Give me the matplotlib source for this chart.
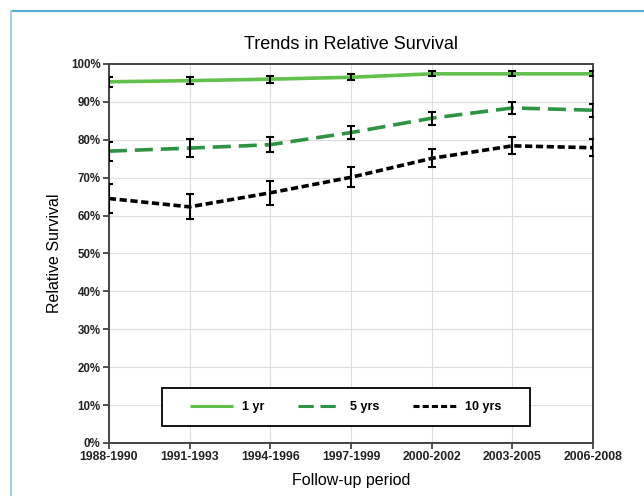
import numpy as np
import matplotlib
matplotlib.use("Agg")
import matplotlib.pyplot as plt
from matplotlib.lines import Line2D
from matplotlib.patches import Rectangle
from matplotlib.ticker import FuncFormatter

# data
periods = ["1988-1990", "1991-1993", "1994-1996", "1997-1999",
           "2000-2002", "2003-2005", "2006-2008"]
surv_1yr = [95.3, 95.6, 96.0, 96.5, 97.4, 97.4, 97.4]
err_1yr = [1.3, 1.0, 0.9, 0.8, 0.7, 0.7, 0.7]
surv_5yr = [77.0, 77.8, 78.7, 81.9, 85.7, 88.4, 87.8]
err_5yr = [2.5, 2.3, 2.0, 1.8, 1.7, 1.5, 1.7]
surv_10yr = [64.5, 62.3, 66.0, 70.1, 75.1, 78.4, 77.9]
err_10yr = [3.8, 3.3, 3.2, 2.6, 2.4, 2.2, 2.2]

plt.rcParams['font.family'] = ['Liberation Sans', 'DejaVu Sans']

fig = plt.figure(figsize=(6.44, 4.96), dpi=100)
ax = fig.add_axes([0.169, 0.107, 0.752, 0.764])

x = np.arange(len(periods))

series = [
    (surv_1yr, err_1yr, "1 yr", "#62c04c", (0, ())),
    (surv_5yr, err_5yr, "5 yrs", "#2e9444", (0, (5, 2.2))),
    (surv_10yr, err_10yr, "10 yrs", "black", (0, (2.0, 1.0))),
]
for vals, errs, name, col, ls in series:
    ax.plot(x, vals, color=col, lw=2.6, linestyle=ls, label=name, zorder=3)
    ax.errorbar(x, vals, yerr=errs, fmt='none', ecolor='black',
                elinewidth=1.5, capsize=3, capthick=1.5, zorder=4)

ax.set_xlim(0, len(periods) - 1)
ax.set_ylim(0, 100)
ax.set_xticks(x)
ax.set_xticklabels(periods)
ax.set_yticks(np.arange(0, 101, 10))
ax.yaxis.set_major_formatter(FuncFormatter(lambda v, p: "%d%%" % v))
ax.tick_params(axis='both', direction='out', length=4, width=1.2,
               color='#333333', pad=2)
ax.tick_params(axis='x', labelsize=8.8)
ax.tick_params(axis='y', labelsize=8.3)
for lab in ax.get_xticklabels() + ax.get_yticklabels():
    lab.set_fontweight('bold')
    lab.set_color('#222222')

ax.grid(True, color='#dddddd', lw=0.8, zorder=0)
for sp in ax.spines.values():
    sp.set_color('#444444')
    sp.set_linewidth(1.4)

ax.set_title("Trends in Relative Survival", fontsize=13, y=1.04, pad=0)
ax.set_xlabel("Follow-up period", fontsize=11.5)
ax.set_ylabel("Relative Survival", fontsize=11.5)
ax.xaxis.set_label_coords(0.5, -0.08)
ax.yaxis.set_label_coords(-0.097, 0.5)

# legend box drawn separately so its size matches the reference
box = Rectangle((0.1095, 0.045), 0.760, 0.100, transform=ax.transAxes,
                facecolor='white', edgecolor='black', lw=1.3, zorder=6)
ax.add_patch(box)
leg = ax.legend(loc='center', bbox_to_anchor=(0.1095 + 0.380, 0.045 + 0.050),
                ncol=3, fontsize=9, frameon=False, handlelength=3.4,
                handletextpad=0.75, columnspacing=2.7, borderaxespad=0)
leg.set_zorder(7)
for t in leg.get_texts():
    t.set_fontweight('bold')
for h in leg.get_lines():
    h.set_linewidth(2.2)

# light blue page frame
fig.add_artist(Line2D([11 / 644, 1], [1 - 11 / 496, 1 - 11 / 496],
                      transform=fig.transFigure, color='#5aaccb', lw=1.5))
fig.add_artist(Line2D([11 / 644, 11 / 644], [0, 1 - 11 / 496],
                      transform=fig.transFigure, color='#9fd0e3', lw=1.5))

fig.savefig("out.png", dpi=100)
